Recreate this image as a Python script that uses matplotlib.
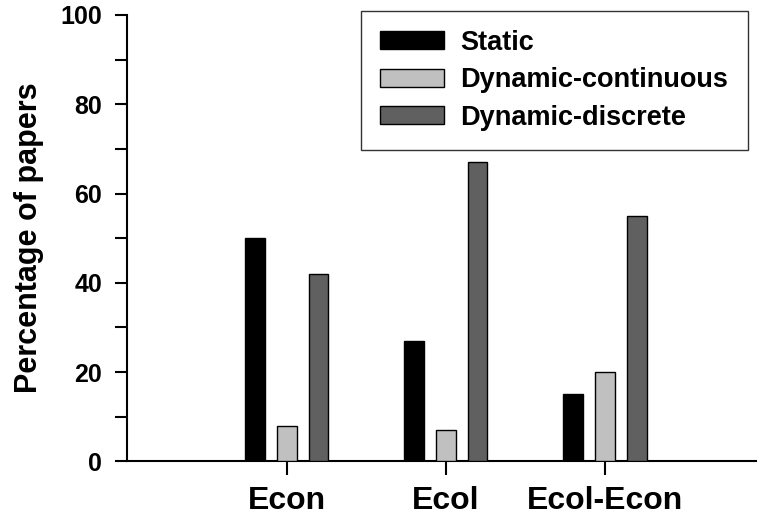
import numpy as np
import matplotlib.pyplot as plt
from matplotlib.ticker import MultipleLocator

groups = ["Econ", "Ecol", "Ecol-Econ"]
series = ["Static", "Dynamic-continuous", "Dynamic-discrete"]
static = [50, 27, 15]
dyn_cont = [8, 7, 20]
dyn_disc = [42, 67, 55]

colors = ["#000000", "#c0c0c0", "#606060"]

plt.rcParams['font.family'] = ['Liberation Sans', 'DejaVu Sans']
plt.rcParams['font.weight'] = 'bold'

fig = plt.figure(figsize=(7.57, 5.22), dpi=100)
ax = fig.add_axes([0.168, 0.1163, 0.832, 0.855])

x = np.arange(1, len(groups) + 1)
w = 0.123
step = 0.2
for i, (vals, name) in enumerate(zip([static, dyn_cont, dyn_disc], series)):
    ax.bar(x + (i - 1) * step, vals, w, color=colors[i], edgecolor="black",
           linewidth=1.0, label=name, zorder=3)

ax.set_xlim(-0.004, 3.956)
ax.set_ylim(0, 100)
ax.set_xticks(x)
ax.set_xticklabels(groups, fontsize=23, fontweight='bold')
ax.yaxis.set_major_locator(MultipleLocator(20))
ax.yaxis.set_minor_locator(MultipleLocator(10))
ax.tick_params(axis='y', which='both', length=9, width=1.5, direction='out',
               labelsize=18, pad=9)
ax.tick_params(axis='x', length=10, width=1.5, direction='out', pad=8)
for lbl in ax.get_yticklabels():
    lbl.set_fontweight('bold')

ax.spines['top'].set_visible(False)
ax.spines['right'].set_visible(False)
ax.spines['left'].set_linewidth(1.5)
ax.spines['bottom'].set_linewidth(1.5)

ax.set_ylabel("Percentage of papers", fontsize=22, fontweight='bold', labelpad=12)

leg = ax.legend(loc='upper left', bbox_to_anchor=(0.371, 1.009, 0.6146, 0), mode='expand',
                fontsize=19.5, frameon=True, fancybox=False, handlelength=2.37,
                handleheight=0.65, handletextpad=0.6, labelspacing=0.42,
                borderpad=0.7, borderaxespad=0)
leg.set_zorder(10)
leg.get_frame().set_edgecolor("black")
leg.get_frame().set_linewidth(1.0)
for t in leg.get_texts():
    t.set_fontweight('bold')

fig.savefig("out.png", dpi=100)
